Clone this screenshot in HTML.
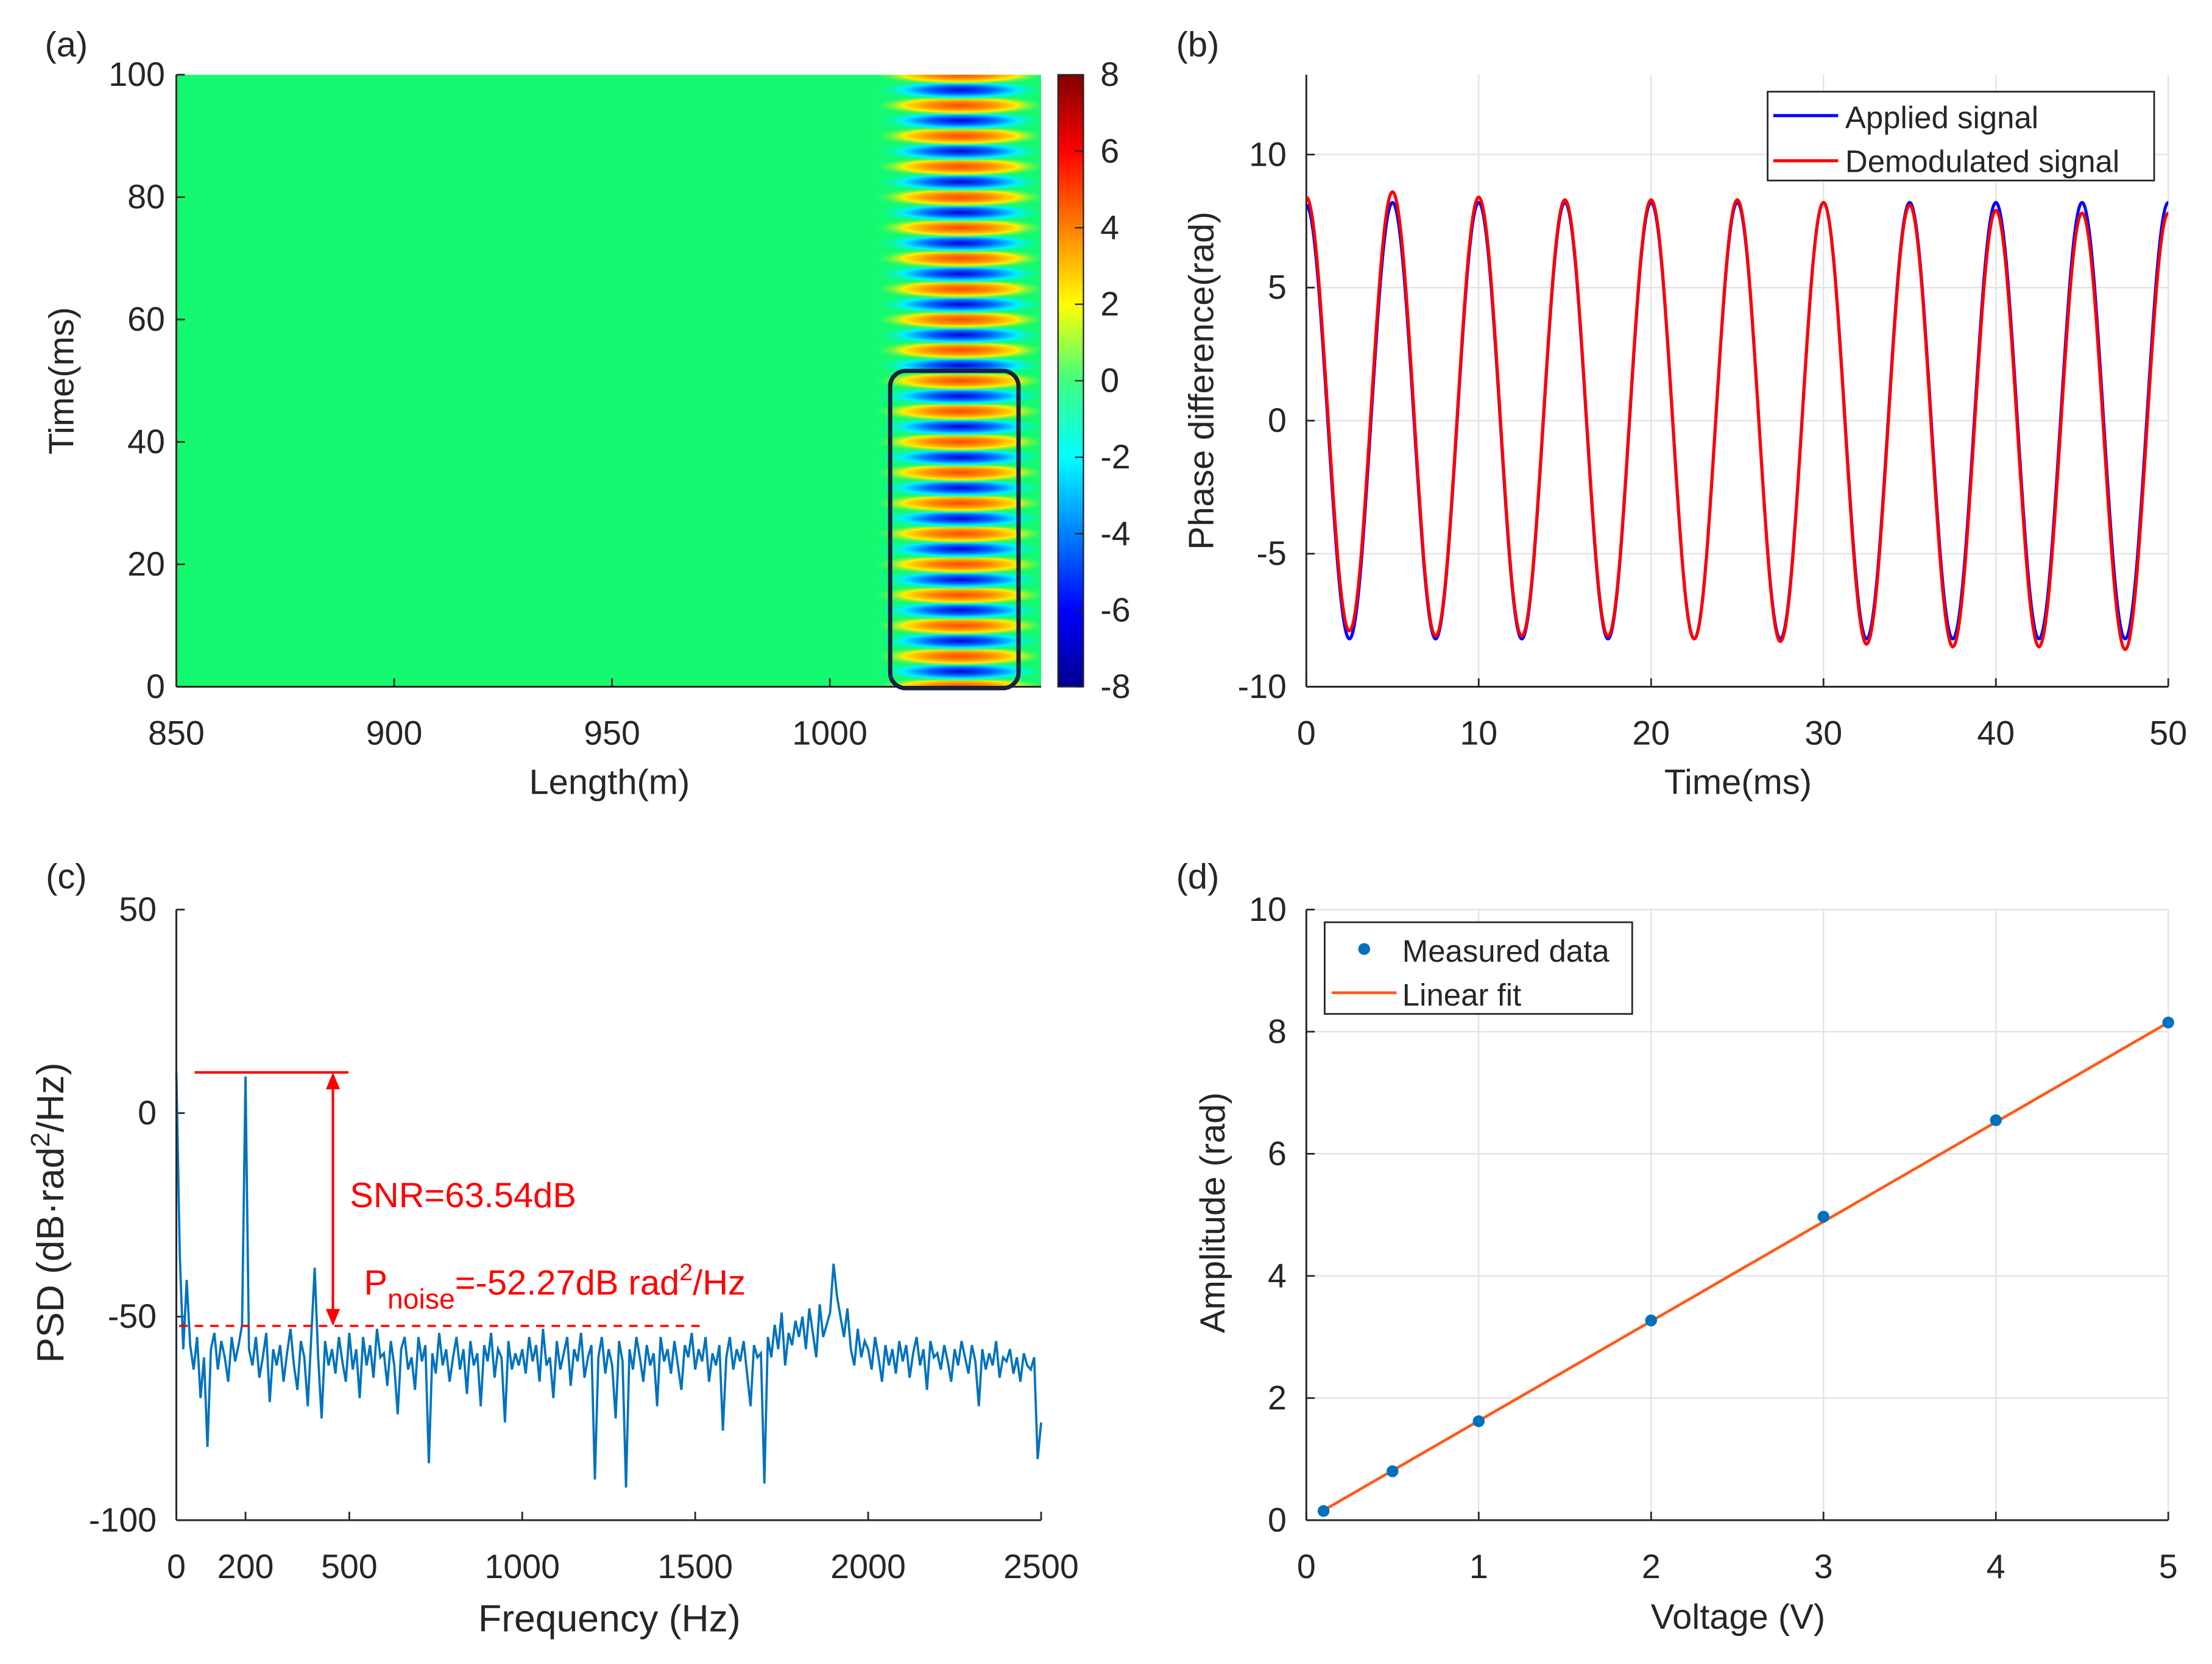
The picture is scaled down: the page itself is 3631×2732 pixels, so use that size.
<!DOCTYPE html>
<html><head><meta charset="utf-8">
<style>
html,body{margin:0;padding:0;background:#fff;}
svg{display:block;}
text{font-family:"Liberation Sans",sans-serif;fill:#262626;}
</style></head>
<body>
<svg id="fig" xmlns="http://www.w3.org/2000/svg" width="3631" height="2732" viewBox="0 0 1568 1180" preserveAspectRatio="none">
<defs>
<radialGradient id="gRed" cx="0.5" cy="0.5" r="0.5">
<stop offset="0" stop-color="#ff4a00"/><stop offset="0.35" stop-color="#ff8c00"/><stop offset="0.65" stop-color="#ffee00"/><stop offset="1" stop-color="#14fa70" stop-opacity="0"/>
</radialGradient>
<radialGradient id="gBlue" cx="0.5" cy="0.5" r="0.5">
<stop offset="0" stop-color="#0000d8"/><stop offset="0.35" stop-color="#0060ff"/><stop offset="0.65" stop-color="#00f0ff"/><stop offset="1" stop-color="#14fa70" stop-opacity="0"/>
</radialGradient>
<linearGradient id="jet" x1="0" y1="1" x2="0" y2="0">
<stop offset="0" stop-color="#00008f"/><stop offset="0.125" stop-color="#0000ff"/><stop offset="0.375" stop-color="#00ffff"/><stop offset="0.5" stop-color="#40ff80"/><stop offset="0.625" stop-color="#ffff00"/><stop offset="0.875" stop-color="#ff0000"/><stop offset="1" stop-color="#800000"/>
</linearGradient>
<clipPath id="clipA"><rect x="125" y="53" width="613" height="434"/></clipPath>
</defs>
</svg>
<script>
// ---------- data ----------
var heatTimes = [0,2.5,5,7.5,10,12.5,15,17.5,20,22.5,25,27.5,30,32.5,35,37.5,40,42.5,45,47.5,50,52.5,55,57.5,60,62.5,65,67.5,70,72.5,75,77.5,80,82.5,85,87.5,90,92.5,95,97.5,100];
var heatValues = [5,-6,5,-6,5,-6,5,-6,5,-6,5,-6,5,-6,5,-6,5,-6,5,-6,5,-6,5,-6,5,-6,5,-6,5,-6,5,-6,5,-6,5,-6,5,-6,5,-6,5];
var bTimes = [0,2.5,5,7.5,10,12.5,15,17.5,20,22.5,25,27.5,30,32.5,35,37.5,40,42.5,45,47.5,50];
var appliedVals = [8.1,-8.2,8.2,-8.2,8.2,-8.2,8.2,-8.2,8.2,-8.2,8.2,-8.2,8.2,-8.2,8.2,-8.2,8.2,-8.2,8.2,-8.2,8.2];
var demodVals = [8.4,-7.9,8.6,-8.1,8.4,-8.1,8.3,-8.1,8.3,-8.2,8.3,-8.3,8.2,-8.4,8.1,-8.5,7.9,-8.5,7.8,-8.6,7.8];
var psdStep = 10;
var psdVals = [10,-35,-58,-41,-57,-63,-55,-70,-60,-82,
-58,-54,-63,-56,-60,-66,-55,-61,-57,-52,
9,-58,-62,-55,-65,-60,-54,-71,-58,-62,
-57,-66,-59,-53,-62,-68,-56,-60,-72,-55,
-38,-60,-75,-56,-62,-58,-64,-55,-61,-66,
-54,-63,-58,-70,-55,-62,-57,-65,-53,-60,
-59,-67,-56,-62,-74,-58,-55,-63,-60,-68,
-55,-61,-57,-86,-59,-64,-54,-62,-58,-66,
-60,-55,-63,-58,-69,-56,-62,-59,-72,-57,
-61,-54,-65,-58,-60,-76,-56,-63,-59,-62,
-58,-64,-55,-61,-57,-66,-53,-62,-60,-70,
-56,-63,-59,-55,-67,-58,-61,-54,-65,-60,
-57,-90,-60,-55,-64,-58,-62,-75,-56,-61,
-92,-58,-63,-55,-60,-66,-57,-62,-59,-72,
-55,-61,-58,-64,-56,-62,-68,-57,-60,-54,
-63,-58,-61,-55,-66,-59,-62,-57,-78,-60,
-55,-63,-58,-61,-56,-64,-72,-57,-60,-59,
-91,-55,-60,-52,-58,-49,-62,-54,-57,-51,
-55,-50,-58,-48,-54,-60,-47,-55,-52,-49,
-37,-45,-50,-55,-48,-58,-62,-53,-60,-56,
-58,-63,-55,-60,-66,-57,-62,-58,-64,-56,
-61,-57,-65,-59,-55,-62,-58,-68,-56,-60,
-59,-63,-57,-61,-66,-58,-62,-56,-60,-64,
-57,-61,-72,-58,-63,-59,-62,-56,-65,-60,
-61,-58,-64,-60,-66,-59,-62,-63,-60,-85,
-76];
var psdSignal = 10;
var psdNoise = -52.27;
var dVolt = [0.1,0.5,1,2,3,4,5];
var dAmp = [0.15,0.8,1.62,3.27,4.97,6.55,8.15];
var fitX = [0.1,5];
var fitY = [0.16,8.15];
var aXTicks = [850,900,950,1000];
var aYTicks = [0,20,40,60,80,100];
var cbTicks = [-8,-6,-4,-2,0,2,4,6,8];
var bXTicks = [0,10,20,30,40,50];
var bYTicks = [-10,-5,0,5,10];
var cXTicks = [0,200,500,1000,1500,2000,2500];
var cYTicks = [-100,-50,0,50];
var dXTicks = [0,1,2,3,4,5];
var dYTicks = [0,2,4,6,8,10];

var NS='http://www.w3.org/2000/svg';
var svg=document.getElementById('fig');
var FS=24;
function mk(tag,attrs,parent,name,inter){
  var el=document.createElementNS(NS,tag);
  for(var k in attrs) el.setAttribute(k,attrs[k]);
  
  
  (parent||svg).appendChild(el);
  return el;
}
function txt(s,x,y,size,anchor,name,extra){
  var a={x:x,y:y,'font-size':size,'text-anchor':anchor||'middle'};
  if(extra) for(var k in extra) a[k]=extra[k];
  var t=mk('text',a,svg,name,false);
  t.textContent=s; return t;
}
function lin(d0,d1,p0,p1){return function(v){return p0+(v-d0)/(d1-d0)*(p1-p0);};}
function axes(L,R,T,B,name){
  mk('line',{x1:L,y1:B,x2:R,y2:B,stroke:'#262626','stroke-width':1.3},svg,name+'-x-axis',false);
  mk('line',{x1:L,y1:T,x2:L,y2:B,stroke:'#262626','stroke-width':1.3},svg,name+'-y-axis',false);
}
function cosPath(xs,ys,sx,sy){
  var d='M'+sx(xs[0])+','+sy(ys[0]);
  for(var i=1;i<xs.length;i++){
    var x0=sx(xs[i-1]),x1=sx(xs[i]),y0=sy(ys[i-1]),y1=sy(ys[i]),dx=x1-x0;
    d+=' C'+(x0+0.3642*dx)+','+y0+' '+(x1-0.3642*dx)+','+y1+' '+x1+','+y1;
  }
  return d;
}

// ---------- panel a ----------
(function(){
  var L=125,R=738,T=53,B=487;
  var sx=lin(850,1048.5,L,R), sy=lin(0,100,B,T);
  var hg=mk('g',{'clip-path':'url(#clipA)'},svg,'heatmap',false);
  mk('rect',{x:L,y:T,width:R-L,height:B-T,fill:'#14fa70'},hg,'heatmap-background',false);
  var g=mk('g',{},hg,'heatmap-stripes',false);
  for(var i=0;i<heatTimes.length;i++){
    var v=heatValues[i], y=sy(heatTimes[i]);
    mk('ellipse',{cx:sx(1030),cy:y,rx:63,ry:7.5,fill:v>0?'url(#gRed)':'url(#gBlue)'},g,'heatmap-stripe',false);
  }
  axes(L,R,T,B,'panel-a');
  aXTicks.forEach(function(t){var x=sx(t);
    mk('line',{x1:x,y1:B,x2:x,y2:B-6,stroke:'#262626','stroke-width':1.2},svg,'x-tick',false);
    txt(String(t),x,528,FS,'middle','x-tick-label');});
  aYTicks.forEach(function(t){var y=sy(t);
    mk('line',{x1:L,y1:y,x2:L+6,y2:y,stroke:'#262626','stroke-width':1.2},svg,'y-tick',false);
    txt(String(t),L-8,y+8,FS,'end','y-tick-label');});
  mk('rect',{x:631,y:263,width:91,height:225,rx:11,fill:'none',stroke:'#1a2040','stroke-width':3},svg,'highlight-box',false);
  var cy=lin(-8,8,B,T);
  mk('rect',{x:750,y:T,width:18,height:B-T,fill:'url(#jet)',stroke:'#262626','stroke-width':1},svg,'colorbar',false);
  cbTicks.forEach(function(t){var y=cy(t);
    mk('line',{x1:762,y1:y,x2:768,y2:y,stroke:'#262626','stroke-width':1},svg,'colorbar-tick',false);
    txt(String(t),780,y+8,FS,'start','colorbar-tick-label');});
  txt('Length(m)',432,563,25,'middle','x-axis-title');
  txt('Time(ms)',52,270,25,'middle','y-axis-title',{transform:'rotate(-90 52 270)'});
  txt('(a)',47,40,25,'middle','panel-label-a');
})();

// ---------- panel b ----------
(function(){
  var L=926,R=1537,T=53,B=487;
  var sx=lin(0,50,L,R), sy=lin(-10,13,B,T);
  bXTicks.forEach(function(t){var x=sx(t);
    mk('line',{x1:x,y1:T,x2:x,y2:B,stroke:'#e3e3e3','stroke-width':1},svg,'x-grid-line',false);
    mk('line',{x1:x,y1:B,x2:x,y2:B-6,stroke:'#262626','stroke-width':1.2},svg,'x-tick',false);
    txt(String(t),x,528,FS,'middle','x-tick-label');});
  bYTicks.forEach(function(t){var y=sy(t);
    mk('line',{x1:L,y1:y,x2:R,y2:y,stroke:'#e3e3e3','stroke-width':1},svg,'y-grid-line',false);
    mk('line',{x1:L,y1:y,x2:L+6,y2:y,stroke:'#262626','stroke-width':1.2},svg,'y-tick',false);
    txt(String(t),L-14,y+8,FS,'end','y-tick-label');});
  axes(L,R,T,B,'panel-b');
  mk('path',{d:cosPath(bTimes,appliedVals,sx,sy),fill:'none',stroke:'#0000ff','stroke-width':2.2},svg,'applied-signal-line',false);
  mk('path',{d:cosPath(bTimes,demodVals,sx,sy),fill:'none',stroke:'#ff0000','stroke-width':2.2},svg,'demodulated-signal-line',false);
  var lg=mk('g',{},svg,'legend',false);
  mk('rect',{x:1253,y:65,width:274,height:63,fill:'#fff',stroke:'#262626','stroke-width':1.2},lg,'legend-box',false);
  mk('line',{x1:1257,y1:82,x2:1303,y2:82,stroke:'#0000ff','stroke-width':2.2},lg,'legend-applied-swatch',false);
  mk('line',{x1:1257,y1:114,x2:1303,y2:114,stroke:'#ff0000','stroke-width':2.2},lg,'legend-demodulated-swatch',false);
  txt('Applied signal',1308,91,22,'start','legend-applied-label');
  txt('Demodulated signal',1308,122,22,'start','legend-demodulated-label');
  txt('Time(ms)',1232,563,25,'middle','x-axis-title');
  txt('Phase difference(rad)',860,270,25,'middle','y-axis-title',{transform:'rotate(-90 860 270)'});
  txt('(b)',849,40,25,'middle','panel-label-b');
})();

// ---------- panel c ----------
(function(){
  var L=125,R=738,T=645,B=1078;
  var sx=lin(0,2500,L,R), sy=lin(-100,50,B,T);
  cXTicks.forEach(function(t){var x=sx(t);
    mk('line',{x1:x,y1:B,x2:x,y2:B-6,stroke:'#262626','stroke-width':1.2},svg,'x-tick',false);
    txt(String(t),x,1119,FS,'middle','x-tick-label');});
  cYTicks.forEach(function(t){var y=sy(t);
    mk('line',{x1:L,y1:y,x2:L+6,y2:y,stroke:'#262626','stroke-width':1.2},svg,'y-tick',false);
    txt(String(t),L-14,y+8,FS,'end','y-tick-label');});
  var d='';
  psdVals.forEach(function(v,i){d+=(i?' L':'M')+sx(i*psdStep)+','+sy(v);});
  mk('path',{d:d,fill:'none',stroke:'#0072bd','stroke-width':1.6},svg,'psd-line',false);
  axes(L,R,T,B,'panel-c');
  var ys=sy(psdSignal), yn=sy(psdNoise);
  mk('line',{x1:138,y1:ys,x2:247,y2:ys,stroke:'#ff0000','stroke-width':1.8},svg,'signal-level-line',false);
  mk('line',{x1:127,y1:yn,x2:500,y2:yn,stroke:'#ff0000','stroke-width':1.5,'stroke-dasharray':'6,5'},svg,'noise-level-line',false);
  mk('line',{x1:236,y1:ys+10,x2:236,y2:yn-10,stroke:'#ff0000','stroke-width':1.8},svg,'snr-arrow-shaft',false);
  mk('polygon',{points:'231,'+(ys+12)+' 241,'+(ys+12)+' 236,'+ys,fill:'#ff0000'},svg,'snr-arrow-head-top',false);
  mk('polygon',{points:'231,'+(yn-12)+' 241,'+(yn-12)+' 236,'+yn,fill:'#ff0000'},svg,'snr-arrow-head-bottom',false);
  var t1=txt('SNR=63.54dB',248,856,25,'start','snr-annotation');t1.style.fill='#ff0000';
  var t2=mk('text',{x:258,y:918,'font-size':25,'text-anchor':'start'},svg,'noise-annotation',false);
  t2.style.fill='#ff0000';
  t2.innerHTML='P<tspan dy="10" font-size="20">noise</tspan><tspan dy="-10">=-52.27dB rad</tspan><tspan dy="-10" font-size="17">2</tspan><tspan dy="10">/Hz</tspan>';
  txt('Frequency (Hz)',432,1157,27,'middle','x-axis-title');
  var yt=mk('text',{x:45,y:860,'font-size':27,'text-anchor':'middle',transform:'rotate(-90 45 860)'},svg,'y-axis-title',false);
  yt.innerHTML='PSD (dB·rad<tspan dy="-10" font-size="19">2</tspan><tspan dy="10">/Hz)</tspan>';
  txt('(c)',47,630,25,'middle','panel-label-c');
})();

// ---------- panel d ----------
(function(){
  var L=926,R=1537,T=645,B=1078;
  var sx=lin(0,5,L,R), sy=lin(0,10,B,T);
  dXTicks.forEach(function(t){var x=sx(t);
    mk('line',{x1:x,y1:T,x2:x,y2:B,stroke:'#e3e3e3','stroke-width':1},svg,'x-grid-line',false);
    mk('line',{x1:x,y1:B,x2:x,y2:B-6,stroke:'#262626','stroke-width':1.2},svg,'x-tick',false);
    txt(String(t),x,1119,FS,'middle','x-tick-label');});
  dYTicks.forEach(function(t){var y=sy(t);
    mk('line',{x1:L,y1:y,x2:R,y2:y,stroke:'#e3e3e3','stroke-width':1},svg,'y-grid-line',false);
    mk('line',{x1:L,y1:y,x2:L+6,y2:y,stroke:'#262626','stroke-width':1.2},svg,'y-tick',false);
    txt(String(t),L-14,y+8,FS,'end','y-tick-label');});
  axes(L,R,T,B,'panel-d');
  mk('line',{x1:sx(fitX[0]),y1:sy(fitY[0]),x2:sx(fitX[1]),y2:sy(fitY[1]),stroke:'#ff5a1a','stroke-width':2},svg,'linear-fit-line',false);
  dVolt.forEach(function(v,i){
    mk('circle',{cx:sx(v),cy:sy(dAmp[i]),r:4.2,fill:'#0072bd'},svg,'measured-point',false);
  });
  var lg=mk('g',{},svg,'legend',false);
  mk('rect',{x:939,y:654,width:218,height:65,fill:'#fff',stroke:'#262626','stroke-width':1.2},lg,'legend-box',false);
  mk('circle',{cx:967,cy:673,r:4.2,fill:'#0072bd'},lg,'legend-measured-swatch',false);
  mk('line',{x1:944,y1:704,x2:990,y2:704,stroke:'#ff5a1a','stroke-width':2},lg,'legend-fit-swatch',false);
  txt('Measured data',994,682,22,'start','legend-measured-label');
  txt('Linear fit',994,713,22,'start','legend-fit-label');
  txt('Voltage (V)',1232,1155,25,'middle','x-axis-title');
  txt('Amplitude (rad)',868,860,25,'middle','y-axis-title',{transform:'rotate(-90 868 860)'});
  txt('(d)',849,630,25,'middle','panel-label-d');
})();
</script>
</body></html>
